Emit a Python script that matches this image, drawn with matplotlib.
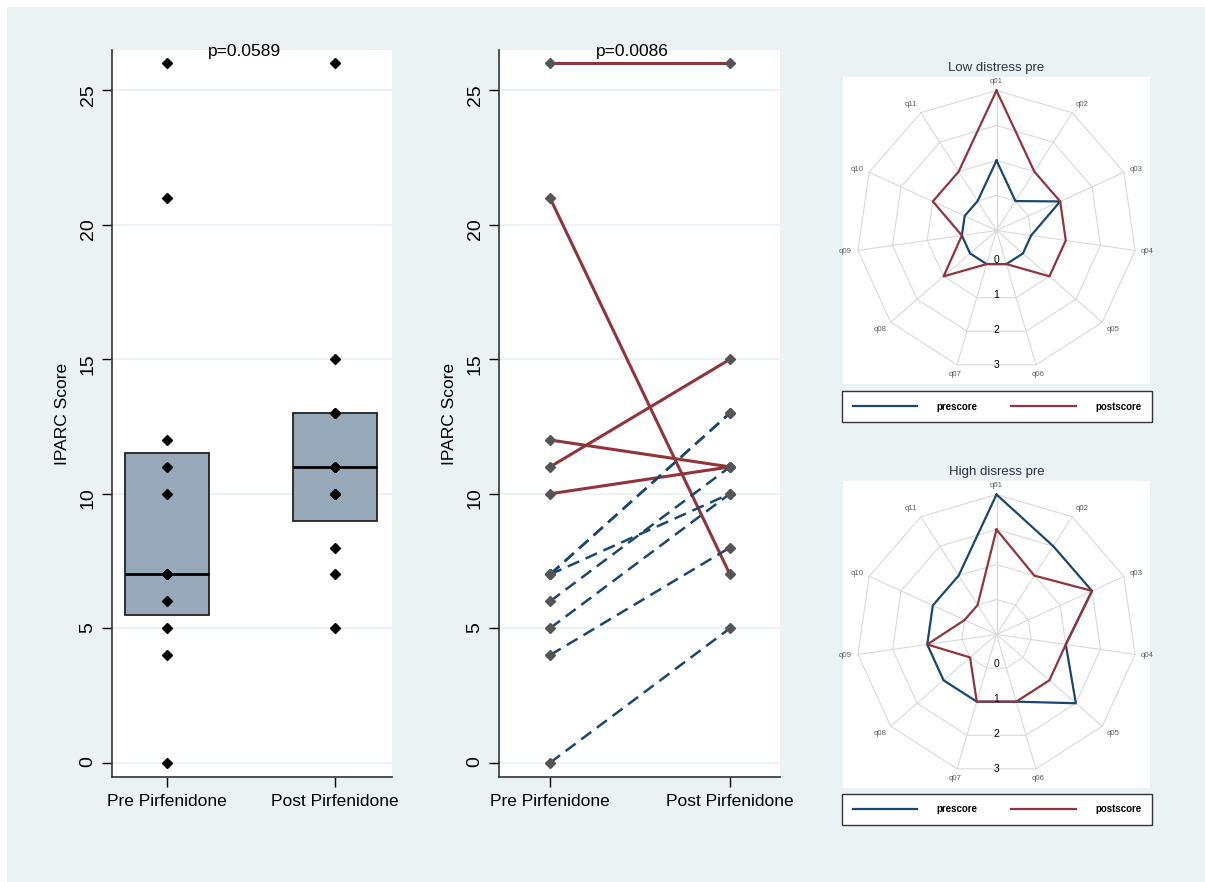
import matplotlib as mpl
import matplotlib.pyplot as plt
import numpy as np
from matplotlib.patches import Rectangle
from matplotlib.lines import Line2D

plt.rcParams['font.family'] = ['Liberation Sans', 'DejaVu Sans']

# 환자별 IPARC 점수 (투약 전 / 후), 같은 순서로 짝지음 (7->13 은 두 명이 겹침)
pre_scores = [26, 21, 12, 11, 10, 7, 7, 7, 6, 5, 4, 0]
post_scores = [26, 7, 11, 15, 11, 13, 13, 10, 11, 10, 8, 5]
distress = ['high', 'high', 'high', 'high', 'high',
            'low', 'low', 'low', 'low', 'low', 'low', 'low']
groups = ['Pre Pirfenidone', 'Post Pirfenidone']
p_box = 'p=0.0589'
p_pair = 'p=0.0086'

# 레이더 차트 문항별 점수 (0-3)
items = ['q01', 'q02', 'q03', 'q04', 'q05', 'q06', 'q07', 'q08', 'q09', 'q10', 'q11']
low_pre = [1, 0, 1, 0, 0, 0, 0, 0, 0, 0, 0]
low_post = [3, 1, 1, 1, 1, 0, 0, 1, 0, 1, 1]
high_pre = [3, 2, 2, 1, 2, 1, 1, 1, 1, 1, 1]
high_post = [2, 1, 2, 1, 1, 1, 1, 0, 1, 0, 0]
ring_values = [0, 1, 2, 3]

BG = '#eaf2f3'
NAVY = '#1a476f'
MAROON = '#90353b'
W, H = 1205, 882


def box(x0, y0, x1, y1):
    # 픽셀 좌표 -> figure 비율
    return [x0 / W, 1 - y1 / H, (x1 - x0) / W, (y1 - y0) / H]


fig = plt.figure(figsize=(W / 100, H / 100), dpi=100, facecolor='white')
fig.patches.append(Rectangle((7 / W, 0), 1, 1 - 7 / H, transform=fig.transFigure,
                             facecolor=BG, edgecolor='none', zorder=-10))


def style(ax, xlim):
    ax.set_xlim(*xlim)
    ax.set_ylim(-0.53, 26.5)
    ax.set_yticks(range(0, 26, 5))
    ax.set_xticks([1, 2], groups)
    ax.tick_params(axis='y', labelrotation=90, length=7, width=1, pad=4, labelsize=14)
    ax.tick_params(axis='x', length=7, width=1, pad=5, labelsize=12.5)
    for s in ['top', 'right']:
        ax.spines[s].set_visible(False)
    for s in ['left', 'bottom']:
        ax.spines[s].set_color('#333333')
        ax.spines[s].set_linewidth(1.2)
    ax.grid(axis='y', color=BG, lw=1.3)
    ax.set_axisbelow(True)
    ax.set_ylabel('IPARC Score', fontsize=12.5)
    ax.yaxis.set_label_coords(-0.15, 0.5)


def box_stats(vals, label):
    # Stata 방식 사분위수 (n*p 가 정수이면 평균)
    q1, med, q3 = np.percentile(vals, [25, 50, 75], method='averaged_inverted_cdf')
    return dict(label=label, q1=q1, med=med, q3=q3, whislo=q1, whishi=q3, fliers=[])


# 왼쪽: 상자 그림 + 점
ax1 = fig.add_axes(box(112, 50, 392, 777))
ax1.bxp([box_stats(pre_scores, groups[0]), box_stats(post_scores, groups[1])],
        positions=[1, 2], widths=0.5, showfliers=False, showcaps=False, patch_artist=True,
        boxprops=dict(facecolor='#97a8b8', edgecolor='#222222', lw=1.3),
        medianprops=dict(color='black', lw=2),
        whiskerprops=dict(lw=0))
ax1.plot(np.full(len(pre_scores), 1), pre_scores, 'D', color='black', ms=5, zorder=3)
ax1.plot(np.full(len(post_scores), 2), post_scores, 'D', color='black', ms=5, zorder=3)
style(ax1, (0.6726, 2.339))
ax1.text(1.46, 26.45, p_box, ha='center', va='center', fontsize=12.5)

# 가운데: 짝지은 선
ax2 = fig.add_axes(box(499, 50, 780, 777))
for a, b, d in zip(pre_scores, post_scores, distress):
    if d == 'high':
        ax2.plot([1, 2], [a, b], color=MAROON, lw=2.2, zorder=2)
    else:
        ax2.plot([1, 2], [a, b], color=NAVY, lw=1.8, ls=(0, (5, 2.8)), zorder=2)
ax2.plot(np.full(len(pre_scores), 1), pre_scores, 'D', color='#555555', ms=5, zorder=4)
ax2.plot(np.full(len(post_scores), 2), post_scores, 'D', color='#555555', ms=5, zorder=4)
style(ax2, (0.7166, 2.278))
ax2.text(1.46, 26.45, p_pair, ha='center', va='center', fontsize=12.5)


def radar(rect, pre, post, title, title_y, leg_rect):
    bg = fig.add_axes(rect)
    bg.set_xticks([])
    bg.set_yticks([])
    for s in bg.spines.values():
        s.set_visible(False)
    bg.set_facecolor('white')

    ax = fig.add_axes(rect, projection='polar')
    ax.set_theta_zero_location('N')
    ax.set_theta_direction(-1)
    ax.set_ylim(0, 4.386)
    ax.set_axis_off()

    n = len(items)
    theta = np.linspace(0, 2 * np.pi, n, endpoint=False)
    tc = np.append(theta, theta[0])
    for k in range(1, 5):
        ax.plot(tc, np.full(n + 1, k), color='#d9d9d9', lw=0.8, zorder=1)
    for t in theta:
        ax.plot([t, t], [0, 4], color='#d9d9d9', lw=0.8, zorder=1)

    ax.plot(tc, np.append(pre, pre[0]) + 1, color=NAVY, lw=1.6, zorder=3)
    ax.plot(tc, np.append(post, post[0]) + 1, color=MAROON, lw=1.6, zorder=3)

    for t, lab in zip(theta, items):
        s, c = np.sin(t), np.cos(t)
        ha = 'left' if s > 0.3 else ('right' if s < -0.3 else 'center')
        va = 'bottom' if c > 0.5 else ('top' if c < -0.5 else 'center')
        ax.text(t, 4.17, lab, ha=ha, va=va, fontsize=5.6, color='#5c5c5c')
    for v in ring_values:
        ax.text(np.pi, v + 0.83, str(v), ha='center', va='center', fontsize=7.5)

    fig.text(rect[0] + rect[2] / 2, title_y, title, ha='center', va='center',
             fontsize=9.5, color='#2a3340')

    handles = [Line2D([], [], color=NAVY, lw=1.6), Line2D([], [], color=MAROON, lw=1.6)]
    leg = fig.legend(handles, ['prescore', 'postscore'], loc='center',
                     bbox_to_anchor=leg_rect, mode='expand', ncol=2,
                     prop=dict(size=7, weight='bold'), handlelength=6.6,
                     handletextpad=2, borderpad=1.1, borderaxespad=0,
                     fancybox=False, framealpha=1)
    leg.get_frame().set_edgecolor('#333333')
    leg.get_frame().set_linewidth(1.0)


radar(box(843, 77, 1150, 384), low_pre, low_post, 'Low distress pre', 1 - 68 / H,
      box(842, 391, 1152, 422))
radar(box(843, 481, 1150, 788), high_pre, high_post, 'High disress pre', 1 - 472 / H,
      box(842, 794, 1152, 825))

fig.savefig('out.png', dpi=100, facecolor=fig.get_facecolor())
